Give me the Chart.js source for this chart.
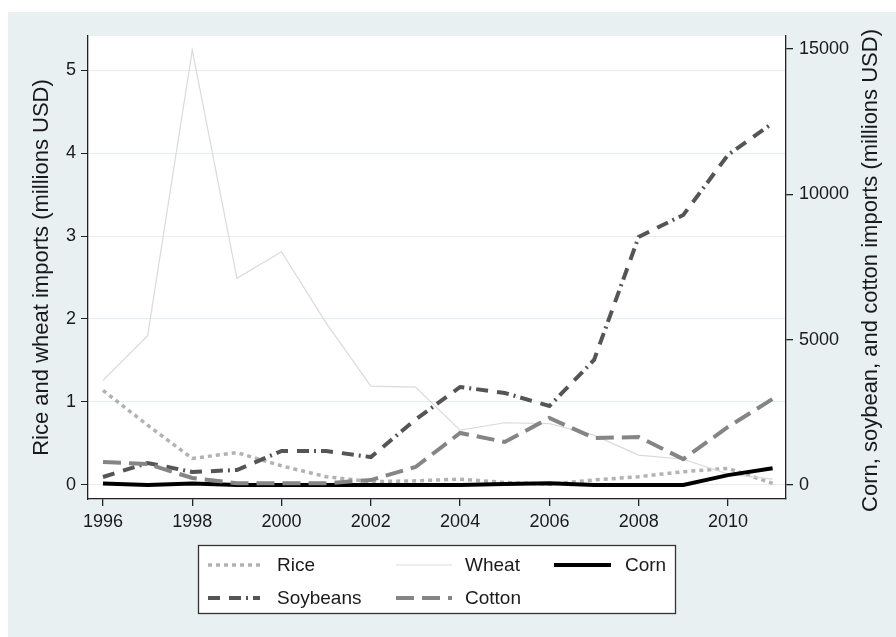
<!DOCTYPE html>
<html>
<head>
<meta charset="utf-8">
<script src="https://cdn.jsdelivr.net/npm/chart.js@4/dist/chart.umd.min.js"></script>
<style>
  html, body { margin: 0; padding: 0; background: #ffffff; }
  canvas { display: block; }
</style>
</head>
<body>
<canvas id="chart" width="896" height="637"></canvas>
<script>
// Annual imports, 1996-2011
const years = [1996, 1997, 1998, 1999, 2000, 2001, 2002, 2003, 2004, 2005, 2006, 2007, 2008, 2009, 2010, 2011];

// Left axis (millions USD)
const rice  = [1.14, 0.72, 0.32, 0.39, 0.23, 0.10, 0.04, 0.05, 0.07, 0.03, 0.01, 0.06, 0.10, 0.16, 0.20, 0.02];
const wheat = [1.26, 1.80, 5.24, 2.49, 2.81, 1.95, 1.19, 1.18, 0.66, 0.75, 0.74, 0.60, 0.36, 0.31, 0.13, 0.07];

// Right axis (millions USD)
const corn     = [50, 0, 50, 0, 0, 0, 0, 0, 0, 30, 60, 0, 0, 0, 340, 575];
const soybeans = [275, 757, 447, 516, 1170, 1170, 960, 2250, 3372, 3166, 2718, 4300, 8534, 9290, 11356, 12445];
const cotton   = [790, 723, 240, 60, 60, 60, 170, 620, 1789, 1480, 2305, 1617, 1650, 890, 1996, 2960];

// Tick labels
const xTicks     = [1996, 1998, 2000, 2002, 2004, 2006, 2008, 2010];
const leftTicks  = [0, 1, 2, 3, 4, 5];
const rightTicks = [0, 5000, 10000, 15000];

const leftTitle  = 'Rice and wheat imports (millions USD)';
const rightTitle = 'Corn, soybean, and cotton imports (millions USD)';

const FONT = '"Liberation Sans", Arial, sans-serif';
const INK = '#1a1a1a';

const pts = arr => years.map((yr, i) => ({ x: yr, y: arr[i] }));

// Panel backgrounds: outer light band and white plot region
const backdrop = {
  id: 'backdrop',
  beforeDraw(chart) {
    const { ctx, chartArea: a } = chart;
    ctx.save();
    ctx.fillStyle = '#ffffff';
    ctx.fillRect(0, 0, chart.width, chart.height);
    ctx.fillStyle = '#e8f0f2';
    ctx.fillRect(8, 12, chart.width - 8, chart.height - 12);
    ctx.fillStyle = '#ffffff';
    ctx.fillRect(a.left, a.top, a.right - a.left, a.bottom - a.top);
    ctx.restore();
  }
};

// Right-hand axis title, reading bottom to top like the left one
const rightAxisTitle = {
  id: 'rightAxisTitle',
  afterDraw(chart) {
    const { ctx, chartArea: a } = chart;
    ctx.save();
    ctx.translate(871, (a.top + a.bottom) / 2 + 3);
    ctx.rotate(-Math.PI / 2);
    ctx.font = '22px ' + FONT;
    ctx.fillStyle = INK;
    ctx.textAlign = 'center';
    ctx.textBaseline = 'middle';
    ctx.fillText(rightTitle, 0, 0);
    ctx.restore();
  }
};

// Boxed key below the plot, three columns by two rows
const boxedKey = {
  id: 'boxedKey',
  afterDraw(chart) {
    const { ctx } = chart;
    const box = { x: 198.5, y: 545.5, w: 477, h: 68 };
    const colSample = [208, 396, 554];
    const sampleLen = [52, 56, 57];
    const colText = [277, 465, 625];
    const rowY = [565, 598];
    const layout = [[0, 0], [1, 0], [2, 0], [0, 1], [1, 1]];
    ctx.save();
    ctx.fillStyle = '#ffffff';
    ctx.fillRect(box.x, box.y, box.w, box.h);
    ctx.strokeStyle = '#333333';
    ctx.lineWidth = 1.3;
    ctx.strokeRect(box.x, box.y, box.w, box.h);
    chart.data.datasets.forEach((ds, i) => {
      const [c, r] = layout[i];
      ctx.beginPath();
      ctx.setLineDash(ds.borderDash || []);
      ctx.lineCap = 'butt';
      ctx.lineWidth = ds.borderWidth;
      ctx.strokeStyle = ds.borderColor;
      ctx.moveTo(colSample[c], rowY[r]);
      ctx.lineTo(colSample[c] + sampleLen[c], rowY[r]);
      ctx.stroke();
      ctx.setLineDash([]);
      ctx.font = '19px ' + FONT;
      ctx.fillStyle = INK;
      ctx.textAlign = 'left';
      ctx.textBaseline = 'middle';
      ctx.fillText(ds.label, colText[c], rowY[r] + 1);
    });
    ctx.restore();
  }
};

const tickFont = { family: FONT, size: 18 };

new Chart(document.getElementById('chart'), {
  type: 'line',
  data: {
    datasets: [
      { label: 'Rice', data: pts(rice), yAxisID: 'yL', borderColor: '#b2b2b2', borderWidth: 3.5, borderDash: [4, 4], order: 5 },
      { label: 'Wheat', data: pts(wheat), yAxisID: 'yL', borderColor: '#dadada', borderWidth: 1.2, order: 4 },
      { label: 'Corn', data: pts(corn), yAxisID: 'yR', borderColor: '#000000', borderWidth: 4, order: 3 },
      { label: 'Soybeans', data: pts(soybeans), yAxisID: 'yR', borderColor: '#555555', borderWidth: 4, borderDash: [12, 9, 12, 5, 2, 5], order: 2 },
      { label: 'Cotton', data: pts(cotton), yAxisID: 'yR', borderColor: '#858585', borderWidth: 4, borderDash: [18, 8], order: 1 }
    ]
  },
  options: {
    responsive: false,
    animation: false,
    devicePixelRatio: 1,
    parsing: true,
    elements: { point: { radius: 0 }, line: { tension: 0, fill: false } },
    layout: { padding: { left: 8, right: 0, top: 36, bottom: 98 } },
    plugins: { legend: { display: false }, tooltip: { enabled: false } },
    scales: {
      x: {
        type: 'linear',
        min: 1995.664,
        max: 2011.30,
        afterBuildTicks: s => { s.ticks = xTicks.map(v => ({ value: v })); },
        afterFit: s => { s.height = 40; },
        ticks: { font: tickFont, color: INK, padding: 5, maxRotation: 0, callback: v => String(v) },
        grid: { drawOnChartArea: false, tickColor: '#222222', tickLength: 7, lineWidth: 1.3 },
        border: { display: true, color: '#222222', width: 1.3 }
      },
      yL: {
        type: 'linear',
        position: 'left',
        min: -0.169,
        max: 5.41,
        afterBuildTicks: s => { s.ticks = leftTicks.map(v => ({ value: v })); },
        afterFit: s => { s.width = 80; },
        ticks: { font: tickFont, color: INK, padding: 5, callback: v => String(v) },
        grid: { color: '#e4edf1', lineWidth: 1, tickColor: '#222222', tickLength: 7 },
        border: { display: true, color: '#222222', width: 1.3 },
        title: { display: true, text: leftTitle, color: INK, font: { family: FONT, size: 22 }, padding: { top: 21, bottom: 0 } }
      },
      yR: {
        type: 'linear',
        position: 'right',
        min: -482,
        max: 15446,
        afterBuildTicks: s => { s.ticks = rightTicks.map(v => ({ value: v })); },
        afterFit: s => { s.width = 110; },
        ticks: { font: tickFont, color: INK, padding: 6, callback: v => String(v) },
        grid: { drawOnChartArea: false, tickColor: '#222222', tickLength: 7, lineWidth: 1.3 },
        border: { display: true, color: '#222222', width: 1.3 }
      }
    }
  },
  plugins: [backdrop, rightAxisTitle, boxedKey]
});
</script>
</body>
</html>
